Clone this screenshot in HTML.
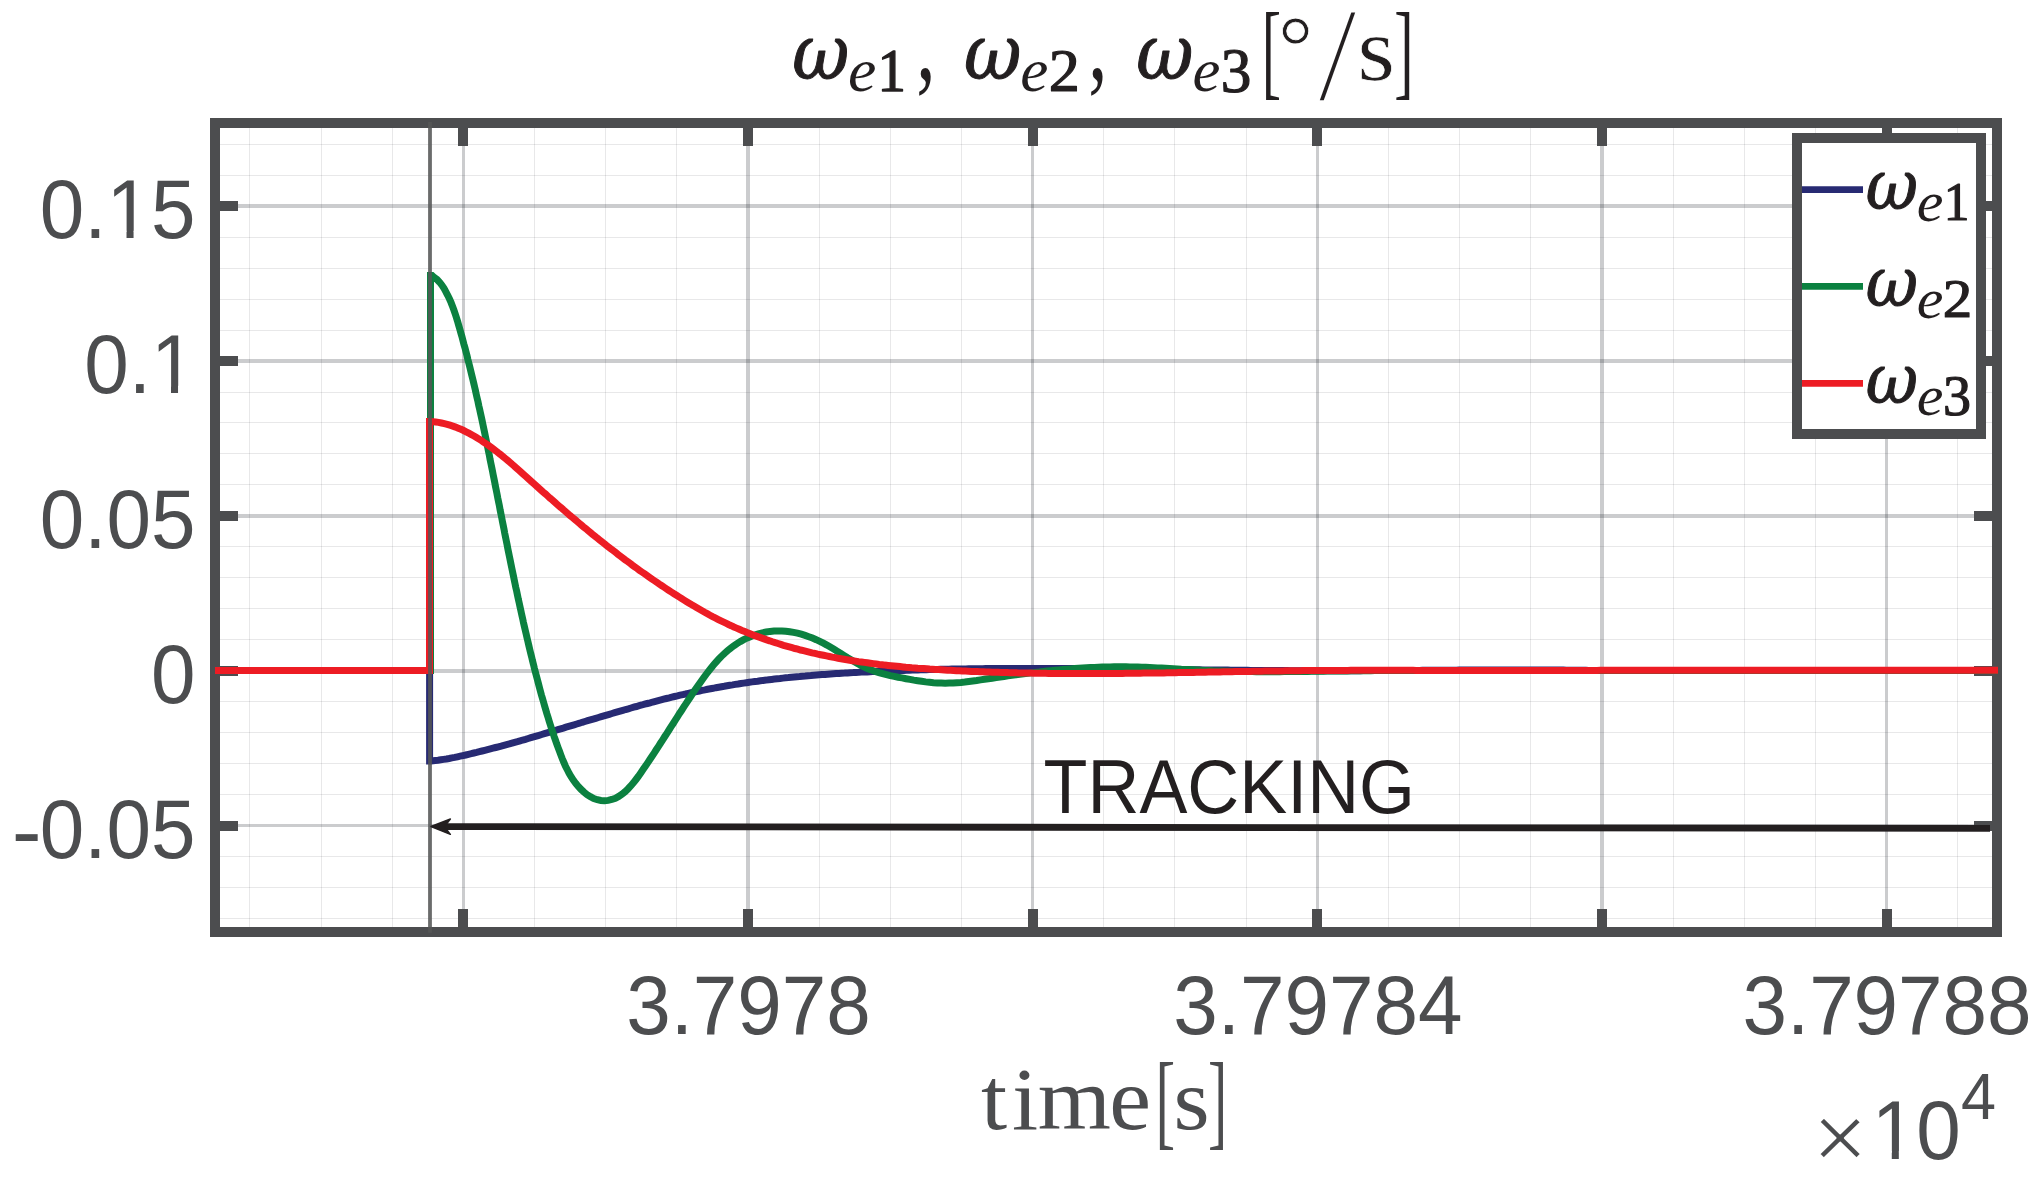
<!DOCTYPE html>
<html><head><meta charset="utf-8"><title>omega e tracking</title>
<style>html,body{margin:0;padding:0;background:#fff;}svg{display:block;}text{font-kerning:none;}</style></head><body>
<svg width="2043" height="1181" viewBox="0 0 2043 1181">
<rect width="2043" height="1181" fill="#fff"/>
<path d="M249.5 123.0V932.0M321.5 123.0V932.0M392.5 123.0V932.0M534.5 123.0V932.0M605.5 123.0V932.0M676.5 123.0V932.0M819.5 123.0V932.0M890.5 123.0V932.0M961.5 123.0V932.0M1103.5 123.0V932.0M1174.5 123.0V932.0M1246.5 123.0V932.0M1388.5 123.0V932.0M1459.5 123.0V932.0M1530.5 123.0V932.0M1673.5 123.0V932.0M1744.5 123.0V932.0M1815.5 123.0V932.0M1957.5 123.0V932.0" stroke="#22262e" stroke-opacity="0.105" stroke-width="1" fill="none"/>
<path d="M215.0 144.5H1997.0M215.0 175.5H1997.0M215.0 237.5H1997.0M215.0 268.5H1997.0M215.0 299.5H1997.0M215.0 330.5H1997.0M215.0 392.5H1997.0M215.0 422.5H1997.0M215.0 453.5H1997.0M215.0 484.5H1997.0M215.0 546.5H1997.0M215.0 577.5H1997.0M215.0 608.5H1997.0M215.0 639.5H1997.0M215.0 701.5H1997.0M215.0 732.5H1997.0M215.0 763.5H1997.0M215.0 794.5H1997.0M215.0 856.5H1997.0M215.0 887.5H1997.0M215.0 918.5H1997.0" stroke="#22262e" stroke-opacity="0.105" stroke-width="1" fill="none"/>
<path d="M463.5 123.0V932.0M1032.5 123.0V932.0M1317.5 123.0V932.0M1886.5 123.0V932.0" stroke="#22262e" stroke-opacity="0.235" stroke-width="3" fill="none"/>
<path d="M748 123.0V932.0M1602 123.0V932.0" stroke="#22262e" stroke-opacity="0.235" stroke-width="4" fill="none"/>
<path d="M215.0 825.5H1997.0" stroke="#22262e" stroke-opacity="0.235" stroke-width="3" fill="none"/>
<path d="M215.0 206H1997.0M215.0 361H1997.0M215.0 516H1997.0M215.0 671H1997.0" stroke="#22262e" stroke-opacity="0.235" stroke-width="4" fill="none"/>
<path d="M463 123.0v23.0M463 932.0v-23.0M748 123.0v23.0M748 932.0v-23.0M1033 123.0v23.0M1033 932.0v-23.0M1317 123.0v23.0M1317 932.0v-23.0M1602 123.0v23.0M1602 932.0v-23.0M1887 123.0v23.0M1887 932.0v-23.0M215.0 206h23.0M1997.0 206h-23.0M215.0 361h23.0M1997.0 361h-23.0M215.0 516h23.0M1997.0 516h-23.0M215.0 671h23.0M1997.0 671h-23.0M215.0 826h23.0M1997.0 826h-23.0" stroke="#4c4d4f" stroke-width="10" fill="none"/>
<rect x="215.0" y="123.0" width="1782.0" height="809.0" fill="none" stroke="#4c4d4f" stroke-width="10"/>
<path d="M215.0 670.5 H429.6 V760.9 h1.6 L435.2 760.5 L438.0 760.2 L440.8 759.8 L443.6 759.4 L446.4 759.0 L449.1 758.5 L451.9 757.9 L454.7 757.4 L457.4 756.8 L460.2 756.2 L462.9 755.6 L465.7 755.0 L468.4 754.3 L471.2 753.7 L473.9 753.0 L476.6 752.4 L479.4 751.7 L482.1 751.0 L484.8 750.3 L487.5 749.6 L490.3 748.9 L493.0 748.2 L495.7 747.5 L498.4 746.8 L501.1 746.1 L503.9 745.3 L506.6 744.6 L509.3 743.9 L512.0 743.1 L514.7 742.3 L517.4 741.6 L520.1 740.8 L522.8 740.0 L525.5 739.3 L528.2 738.5 L530.9 737.7 L533.6 736.9 L536.3 736.1 L539.0 735.3 L541.7 734.5 L544.4 733.7 L547.1 732.9 L549.8 732.1 L552.5 731.3 L555.2 730.5 L557.9 729.7 L560.6 728.9 L563.3 728.1 L566.0 727.2 L568.7 726.4 L571.4 725.6 L574.1 724.8 L576.8 724.0 L579.5 723.2 L582.2 722.3 L584.9 721.5 L587.6 720.7 L590.3 719.9 L593.1 719.1 L595.8 718.3 L598.5 717.5 L601.2 716.7 L603.9 715.9 L606.6 715.1 L609.3 714.3 L612.0 713.5 L614.7 712.7 L617.4 711.9 L620.1 711.1 L622.9 710.3 L625.6 709.5 L628.3 708.8 L631.0 708.0 L633.7 707.2 L636.4 706.5 L639.2 705.7 L641.9 705.0 L644.6 704.2 L647.3 703.5 L650.1 702.8 L652.8 702.0 L655.5 701.3 L658.2 700.6 L661.0 699.9 L663.7 699.2 L666.4 698.5 L669.2 697.9 L671.9 697.2 L674.6 696.5 L677.4 695.9 L680.1 695.2 L682.9 694.6 L685.6 694.0 L688.4 693.3 L691.1 692.7 L693.9 692.1 L696.6 691.6 L699.4 691.0 L702.1 690.4 L704.9 689.9 L707.6 689.3 L710.4 688.8 L713.2 688.3 L715.9 687.7 L718.7 687.2 L721.5 686.7 L724.2 686.3 L727.0 685.8 L729.8 685.3 L732.6 684.9 L735.3 684.4 L738.1 684.0 L740.9 683.5 L743.7 683.1 L746.5 682.7 L749.3 682.3 L752.0 681.9 L754.8 681.5 L757.6 681.2 L760.4 680.8 L763.2 680.4 L766.0 680.1 L768.8 679.7 L771.6 679.4 L774.4 679.1 L777.2 678.8 L780.0 678.5 L782.8 678.1 L785.6 677.8 L788.4 677.6 L791.2 677.3 L794.0 677.0 L796.8 676.7 L799.6 676.5 L802.4 676.2 L805.2 676.0 L808.0 675.7 L810.8 675.5 L813.6 675.2 L816.5 675.0 L819.3 674.8 L822.1 674.6 L824.9 674.4 L827.7 674.2 L830.5 674.0 L833.3 673.8 L836.2 673.6 L839.0 673.4 L841.8 673.2 L844.6 673.1 L847.4 672.9 L850.2 672.7 L853.1 672.6 L855.9 672.4 L858.7 672.3 L861.5 672.1 L864.3 672.0 L867.1 671.9 L870.0 671.7 L872.8 671.6 L875.6 671.5 L878.4 671.3 L881.2 671.2 L884.1 671.1 L886.9 671.0 L889.7 670.9 L892.5 670.8 L895.3 670.7 L898.2 670.6 L901.0 670.5 L903.8 670.4 L906.6 670.3 L909.4 670.2 L912.3 670.1 L915.1 670.0 L917.9 669.9 L920.7 669.8 L923.5 669.8 L926.4 669.7 L929.2 669.6 L932.0 669.5 L934.8 669.5 L937.6 669.4 L940.5 669.3 L943.3 669.3 L946.1 669.2 L948.9 669.2 L951.7 669.1 L954.6 669.1 L957.4 669.0 L960.2 669.0 L963.0 668.9 L965.8 668.9 L968.6 668.8 L971.5 668.8 L974.3 668.8 L977.1 668.7 L979.9 668.7 L982.7 668.7 L985.6 668.6 L988.4 668.6 L991.2 668.6 L994.0 668.5 L996.8 668.5 L999.6 668.5 L1002.5 668.5 L1005.3 668.5 L1008.1 668.4 L1010.9 668.4 L1013.7 668.4 L1016.6 668.4 L1019.4 668.4 L1022.2 668.4 L1025.0 668.4 L1027.8 668.4 L1030.6 668.4 L1033.5 668.4 L1036.3 668.4 L1039.1 668.4 L1041.9 668.4 L1044.7 668.4 L1047.6 668.4 L1050.4 668.4 L1053.2 668.4 L1056.0 668.4 L1058.8 668.4 L1061.6 668.4 L1064.5 668.4 L1067.3 668.5 L1070.1 668.5 L1072.9 668.5 L1075.7 668.5 L1078.5 668.5 L1081.4 668.5 L1084.2 668.6 L1087.0 668.6 L1089.8 668.6 L1092.6 668.6 L1095.4 668.6 L1098.3 668.7 L1101.1 668.7 L1103.9 668.7 L1106.7 668.7 L1109.5 668.8 L1112.4 668.8 L1115.2 668.8 L1118.0 668.8 L1120.8 668.9 L1123.6 668.9 L1126.4 668.9 L1129.3 669.0 L1132.1 669.0 L1134.9 669.0 L1137.7 669.1 L1140.5 669.1 L1143.3 669.1 L1146.2 669.2 L1149.0 669.2 L1151.8 669.2 L1154.6 669.3 L1157.4 669.3 L1160.3 669.3 L1163.1 669.4 L1165.9 669.4 L1168.7 669.4 L1171.5 669.5 L1174.3 669.5 L1177.2 669.5 L1180.0 669.6 L1182.8 669.6 L1185.6 669.6 L1188.4 669.7 L1191.2 669.7 L1194.1 669.7 L1196.9 669.8 L1199.7 669.8 L1202.5 669.9 L1205.3 669.9 L1208.2 669.9 L1211.0 670.0 L1213.8 670.0 L1216.6 670.0 L1219.4 670.0 L1222.2 670.1 L1225.1 670.1 L1227.9 670.1 L1230.7 670.2 L1233.5 670.2 L1236.3 670.2 L1239.2 670.3 L1242.0 670.3 L1244.8 670.3 L1247.6 670.3 L1250.4 670.4 L1253.2 670.4 L1256.1 670.4 L1258.9 670.4 L1261.7 670.5 L1264.5 670.5 L1267.3 670.5 L1270.2 670.5 L1273.0 670.6 L1275.8 670.6 L1278.6 670.6 L1281.4 670.6 L1284.2 670.6 L1287.1 670.6 L1289.9 670.7 L1292.7 670.7 L1295.5 670.7 L1298.3 670.7 L1301.2 670.7 L1304.0 670.7 L1306.8 670.7 L1309.6 670.7 L1312.4 670.7 L1315.3 670.7 L1318.1 670.7 L1320.9 670.7 L1323.7 670.7 L1326.5 670.7 L1329.4 670.7 L1332.2 670.7 L1335.0 670.7 L1337.8 670.7 L1340.6 670.7 L1343.5 670.7 L1346.3 670.7 L1349.1 670.7 L1351.9 670.7 L1354.7 670.7 L1357.6 670.7 L1360.4 670.7 L1363.2 670.6 L1366.0 670.6 L1368.8 670.6 L1371.7 670.6 L1374.5 670.6 L1377.3 670.6 L1380.1 670.6 L1382.9 670.6 L1385.8 670.5 L1388.6 670.5 L1391.4 670.5 L1394.2 670.5 L1397.0 670.5 L1399.9 670.5 L1402.7 670.5 L1405.5 670.4 L1408.3 670.4 L1411.1 670.4 L1414.0 670.4 L1416.8 670.4 L1419.6 670.4 L1422.4 670.3 L1425.2 670.3 L1428.1 670.3 L1430.9 670.3 L1433.7 670.3 L1436.5 670.3 L1439.3 670.2 L1442.2 670.2 L1445.0 670.2 L1447.8 670.2 L1450.6 670.2 L1453.4 670.2 L1456.3 670.2 L1459.1 670.1 L1461.9 670.1 L1464.7 670.1 L1467.5 670.1 L1470.4 670.1 L1473.2 670.1 L1476.0 670.1 L1478.8 670.1 L1481.6 670.0 L1484.5 670.0 L1487.3 670.0 L1490.1 670.0 L1492.9 670.0 L1495.7 670.0 L1498.5 670.0 L1501.4 670.0 L1504.2 670.0 L1507.0 670.0 L1509.8 670.0 L1512.6 670.0 L1515.5 670.0 L1518.3 670.0 L1521.1 670.0 L1523.9 670.0 L1526.7 670.0 L1529.6 670.0 L1532.4 670.0 L1535.2 670.0 L1538.0 670.0 L1540.8 670.0 L1543.6 670.0 L1546.5 670.0 L1549.3 670.1 L1552.1 670.1 L1554.9 670.1 L1557.7 670.1 L1560.6 670.1 L1563.4 670.1 L1566.2 670.2 L1569.0 670.2 L1571.8 670.2 L1574.6 670.2 L1577.5 670.2 L1580.3 670.3 L1583.1 670.3 L1585.9 670.3 L1588.7 670.4 L1591.5 670.4 L1594.4 670.4 L1597.2 670.5 L1600.0 670.5 H1998.0" stroke="#272a73" stroke-width="7" fill="none" stroke-linejoin="miter" stroke-linecap="butt"/>
<path d="M215.0 670.5 H430.5 V275.6 h1.6 L434.0 277.3 L437.0 279.5 L439.6 282.2 L441.9 285.2 L444.0 288.4 L445.9 291.8 L447.7 295.3 L449.4 298.8 L451.0 302.4 L452.4 306.1 L453.8 309.8 L455.1 313.5 L456.3 317.3 L457.5 321.1 L458.6 325.0 L459.7 328.8 L460.8 332.7 L461.9 336.5 L462.9 340.4 L463.9 344.2 L465.0 348.0 L466.0 351.9 L467.0 355.7 L467.9 359.6 L468.9 363.4 L469.9 367.3 L470.8 371.1 L471.7 374.9 L472.7 378.8 L473.6 382.6 L474.5 386.5 L475.4 390.3 L476.2 394.1 L477.1 398.0 L478.0 401.8 L478.8 405.7 L479.7 409.5 L480.5 413.3 L481.4 417.2 L482.2 421.0 L483.0 424.9 L483.8 428.7 L484.6 432.5 L485.4 436.4 L486.2 440.2 L487.0 444.1 L487.8 447.9 L488.6 451.8 L489.4 455.6 L490.1 459.5 L490.9 463.4 L491.7 467.2 L492.5 471.1 L493.2 474.9 L494.0 478.8 L494.8 482.7 L495.5 486.5 L496.3 490.4 L497.1 494.3 L497.8 498.2 L498.6 502.0 L499.4 505.9 L500.1 509.8 L500.9 513.7 L501.7 517.6 L502.4 521.4 L503.2 525.3 L504.0 529.2 L504.7 533.1 L505.5 537.0 L506.3 540.9 L507.1 544.8 L507.8 548.6 L508.6 552.5 L509.4 556.4 L510.2 560.3 L511.0 564.2 L511.8 568.1 L512.6 572.0 L513.4 575.8 L514.2 579.7 L515.0 583.6 L515.8 587.5 L516.7 591.3 L517.5 595.2 L518.3 599.1 L519.2 603.0 L520.0 606.8 L520.9 610.7 L521.7 614.6 L522.6 618.4 L523.4 622.3 L524.3 626.1 L525.2 630.0 L526.1 633.8 L527.0 637.7 L527.9 641.5 L528.8 645.4 L529.7 649.2 L530.6 653.0 L531.6 656.8 L532.5 660.7 L533.5 664.5 L534.4 668.3 L535.4 672.1 L536.4 675.9 L537.4 679.7 L538.4 683.5 L539.4 687.3 L540.4 691.1 L541.4 694.9 L542.5 698.6 L543.6 702.4 L544.7 706.2 L545.8 709.9 L546.9 713.7 L548.1 717.5 L549.2 721.2 L550.4 725.0 L551.6 728.8 L552.9 732.5 L554.1 736.3 L555.4 740.0 L556.7 743.8 L558.1 747.6 L559.5 751.3 L560.9 755.1 L562.3 758.8 L563.9 762.5 L565.5 766.2 L567.3 769.8 L569.1 773.3 L571.1 776.7 L573.3 780.1 L575.7 783.3 L578.3 786.4 L581.1 789.4 L584.0 792.1 L587.1 794.6 L590.4 796.7 L593.8 798.5 L597.3 799.7 L600.9 800.5 L604.5 800.7 L608.2 800.4 L611.8 799.5 L615.4 798.2 L618.7 796.4 L622.0 794.2 L625.0 791.8 L627.9 789.0 L630.7 786.0 L633.4 782.9 L636.0 779.5 L638.5 776.2 L640.9 772.7 L643.2 769.3 L645.5 766.0 L647.8 762.6 L650.0 759.3 L652.2 756.0 L654.3 752.8 L656.4 749.5 L658.5 746.3 L660.6 743.0 L662.7 739.8 L664.8 736.5 L666.9 733.3 L669.0 730.0 L671.1 726.7 L673.2 723.5 L675.3 720.2 L677.4 716.9 L679.5 713.5 L681.7 710.2 L683.8 706.9 L686.0 703.6 L688.2 700.3 L690.4 697.0 L692.6 693.6 L694.8 690.3 L697.1 687.0 L699.4 683.7 L701.7 680.4 L704.0 677.2 L706.4 674.0 L708.8 670.8 L711.3 667.7 L713.9 664.6 L716.5 661.6 L719.1 658.7 L721.9 655.9 L724.7 653.2 L727.6 650.6 L730.6 648.2 L733.8 645.8 L737.0 643.6 L740.3 641.6 L743.7 639.7 L747.3 637.9 L750.9 636.4 L754.7 635.0 L758.4 633.8 L762.3 632.8 L766.2 632.0 L770.1 631.4 L774.0 631.0 L777.9 630.9 L781.9 630.9 L785.8 631.2 L789.7 631.7 L793.6 632.4 L797.4 633.2 L801.3 634.2 L805.1 635.4 L808.8 636.7 L812.5 638.1 L816.2 639.7 L819.8 641.4 L823.4 643.2 L826.9 645.1 L830.3 647.1 L833.7 649.1 L837.1 651.2 L840.5 653.3 L843.9 655.4 L847.2 657.5 L850.6 659.5 L854.0 661.5 L857.4 663.4 L860.9 665.3 L864.3 667.0 L867.9 668.7 L871.5 670.1 L875.1 671.5 L878.9 672.7 L882.6 673.7 L886.5 674.7 L890.3 675.6 L894.2 676.4 L898.1 677.2 L902.0 677.9 L906.0 678.7 L909.9 679.4 L913.8 680.1 L917.7 680.7 L921.7 681.3 L925.6 681.9 L929.5 682.3 L933.5 682.7 L937.4 683.0 L941.3 683.1 L945.2 683.2 L949.2 683.1 L953.1 683.0 L957.0 682.7 L960.9 682.4 L964.8 682.0 L968.8 681.5 L972.7 681.0 L976.6 680.5 L980.5 679.9 L984.4 679.3 L988.3 678.7 L992.2 678.2 L996.2 677.6 L1000.1 677.0 L1004.0 676.5 L1007.9 675.9 L1011.8 675.4 L1015.8 674.9 L1019.7 674.4 L1023.6 673.9 L1027.5 673.4 L1031.5 672.9 L1035.4 672.4 L1039.3 672.0 L1043.3 671.5 L1047.2 671.1 L1051.1 670.7 L1055.1 670.3 L1059.0 669.9 L1062.9 669.5 L1066.9 669.2 L1070.8 668.9 L1074.7 668.6 L1078.7 668.3 L1082.6 668.0 L1086.5 667.8 L1090.5 667.6 L1094.4 667.4 L1098.4 667.2 L1102.3 667.1 L1106.3 667.0 L1110.2 666.9 L1114.1 666.8 L1118.1 666.8 L1122.0 666.8 L1126.0 666.8 L1129.9 666.9 L1133.9 667.0 L1137.8 667.1 L1141.8 667.2 L1145.7 667.3 L1149.7 667.5 L1153.6 667.7 L1157.6 667.9 L1161.5 668.1 L1165.5 668.3 L1169.4 668.5 L1173.4 668.7 L1177.3 668.9 L1181.3 669.2 L1185.2 669.4 L1189.2 669.6 L1193.1 669.8 L1197.1 670.0 L1201.0 670.2 L1205.0 670.4 L1208.9 670.6 L1212.9 670.8 L1216.8 670.9 L1220.8 671.0 L1224.7 671.2 L1228.7 671.3 L1232.6 671.4 L1236.6 671.4 L1240.5 671.5 L1244.5 671.6 L1248.4 671.6 L1252.4 671.6 L1256.3 671.7 L1260.3 671.7 L1264.2 671.7 L1268.2 671.7 L1272.1 671.7 L1276.1 671.7 L1280.0 671.7 L1284.0 671.6 L1287.9 671.6 L1291.9 671.6 L1295.8 671.5 L1299.7 671.5 L1303.7 671.4 L1307.6 671.4 L1311.6 671.3 L1315.5 671.3 L1319.5 671.2 L1323.4 671.2 L1327.4 671.1 L1331.3 671.1 L1335.3 671.0 L1339.2 671.0 L1343.2 670.9 L1347.1 670.9 L1351.1 670.8 L1355.0 670.8 L1359.0 670.8 L1362.9 670.7 L1366.9 670.7 L1370.8 670.7 L1374.8 670.6 L1378.7 670.6 L1382.7 670.6 L1386.6 670.6 L1390.6 670.5 L1394.6 670.5 L1398.5 670.5 L1402.5 670.5 L1406.4 670.5 L1410.4 670.4 L1414.3 670.4 L1418.3 670.4 L1422.2 670.4 L1426.2 670.4 L1430.1 670.4 L1434.1 670.4 L1438.0 670.4 L1442.0 670.4 L1445.9 670.4 L1449.9 670.4 L1453.8 670.4 L1457.8 670.4 L1461.7 670.4 L1465.7 670.4 L1469.6 670.4 L1473.6 670.4 L1477.5 670.4 L1481.5 670.4 L1485.4 670.4 L1489.4 670.4 L1493.3 670.4 L1497.3 670.4 L1501.2 670.4 L1505.2 670.4 L1509.1 670.4 L1513.1 670.4 L1517.0 670.5 L1521.0 670.5 L1524.9 670.5 L1528.9 670.5 L1532.8 670.5 L1536.8 670.5 L1540.7 670.5 L1544.7 670.5 L1548.6 670.5 L1552.6 670.5 L1556.5 670.5 L1560.5 670.5 L1564.4 670.5 L1568.4 670.5 L1572.4 670.5 L1576.3 670.5 L1580.3 670.5 L1584.2 670.5 L1588.2 670.5 L1592.1 670.5 L1596.0 670.5 L1600.0 670.5 H1998.0" stroke="#0b8140" stroke-width="7" fill="none" stroke-linejoin="miter" stroke-linecap="butt"/>
<path d="M215.0 670.5 H429.5 V421.4 h1.6 L432.6 421.6 L435.6 422.0 L438.5 422.4 L441.5 423.0 L444.3 423.6 L447.2 424.3 L450.0 425.2 L452.8 426.1 L455.6 427.1 L458.3 428.2 L461.0 429.3 L463.6 430.5 L466.2 431.8 L468.8 433.2 L471.4 434.6 L474.0 436.0 L476.5 437.5 L479.0 439.1 L481.5 440.6 L483.9 442.3 L486.3 443.9 L488.8 445.6 L491.2 447.4 L493.5 449.1 L495.9 450.9 L498.2 452.8 L500.6 454.6 L502.9 456.5 L505.2 458.4 L507.5 460.3 L509.7 462.2 L512.0 464.2 L514.3 466.1 L516.5 468.1 L518.8 470.1 L521.0 472.1 L523.2 474.1 L525.5 476.1 L527.7 478.1 L529.9 480.1 L532.1 482.1 L534.4 484.1 L536.6 486.1 L538.8 488.1 L541.0 490.1 L543.2 492.1 L545.5 494.0 L547.7 496.0 L549.9 498.0 L552.2 499.9 L554.4 501.9 L556.6 503.9 L558.8 505.8 L561.1 507.7 L563.3 509.7 L565.6 511.6 L567.8 513.5 L570.0 515.5 L572.3 517.4 L574.6 519.3 L576.8 521.2 L579.1 523.1 L581.3 525.0 L583.6 526.9 L585.9 528.7 L588.1 530.6 L590.4 532.5 L592.7 534.4 L595.0 536.2 L597.3 538.1 L599.6 539.9 L601.9 541.7 L604.2 543.6 L606.5 545.4 L608.8 547.2 L611.1 549.0 L613.5 550.8 L615.8 552.6 L618.1 554.4 L620.5 556.2 L622.8 558.0 L625.2 559.8 L627.6 561.5 L630.0 563.3 L632.3 565.1 L634.7 566.8 L637.1 568.5 L639.5 570.3 L641.9 572.0 L644.4 573.7 L646.8 575.4 L649.2 577.1 L651.7 578.8 L654.1 580.5 L656.6 582.2 L659.0 583.9 L661.5 585.5 L664.0 587.2 L666.5 588.8 L669.0 590.5 L671.5 592.1 L674.0 593.7 L676.5 595.3 L679.0 596.9 L681.6 598.5 L684.1 600.1 L686.7 601.7 L689.2 603.2 L691.8 604.8 L694.4 606.3 L696.9 607.8 L699.5 609.3 L702.1 610.8 L704.7 612.3 L707.3 613.7 L710.0 615.2 L712.6 616.6 L715.2 617.9 L717.9 619.3 L720.5 620.6 L723.2 621.9 L725.9 623.2 L728.5 624.5 L731.2 625.7 L733.9 627.0 L736.6 628.1 L739.3 629.3 L742.0 630.5 L744.8 631.6 L747.5 632.7 L750.2 633.8 L753.0 634.9 L755.7 635.9 L758.5 636.9 L761.3 637.9 L764.0 638.9 L766.8 639.9 L769.6 640.8 L772.4 641.8 L775.2 642.7 L778.0 643.5 L780.8 644.4 L783.6 645.3 L786.4 646.1 L789.3 646.9 L792.1 647.7 L794.9 648.5 L797.8 649.2 L800.6 650.0 L803.5 650.7 L806.3 651.4 L809.2 652.1 L812.1 652.8 L814.9 653.4 L817.8 654.1 L820.7 654.7 L823.6 655.3 L826.5 655.9 L829.4 656.5 L832.3 657.1 L835.2 657.6 L838.1 658.2 L841.0 658.7 L843.9 659.2 L846.9 659.7 L849.8 660.2 L852.7 660.7 L855.6 661.1 L858.6 661.6 L861.5 662.0 L864.4 662.4 L867.4 662.8 L870.3 663.2 L873.3 663.6 L876.2 664.0 L879.2 664.4 L882.1 664.7 L885.1 665.1 L888.0 665.4 L891.0 665.7 L894.0 666.0 L896.9 666.3 L899.9 666.6 L902.9 666.9 L905.8 667.2 L908.8 667.4 L911.8 667.7 L914.8 667.9 L917.7 668.2 L920.7 668.4 L923.7 668.6 L926.7 668.8 L929.6 669.1 L932.6 669.3 L935.6 669.5 L938.6 669.6 L941.6 669.8 L944.5 670.0 L947.5 670.2 L950.5 670.3 L953.5 670.5 L956.4 670.7 L959.4 670.8 L962.4 671.0 L965.4 671.1 L968.4 671.2 L971.3 671.4 L974.3 671.5 L977.3 671.6 L980.3 671.7 L983.2 671.8 L986.2 672.0 L989.2 672.1 L992.2 672.2 L995.1 672.3 L998.1 672.3 L1001.1 672.4 L1004.0 672.5 L1007.0 672.6 L1010.0 672.7 L1012.9 672.8 L1015.9 672.8 L1018.9 672.9 L1021.9 673.0 L1024.8 673.0 L1027.8 673.1 L1030.8 673.1 L1033.7 673.2 L1036.7 673.2 L1039.7 673.3 L1042.6 673.3 L1045.6 673.3 L1048.5 673.4 L1051.5 673.4 L1054.5 673.4 L1057.4 673.5 L1060.4 673.5 L1063.4 673.5 L1066.3 673.5 L1069.3 673.5 L1072.3 673.5 L1075.2 673.5 L1078.2 673.6 L1081.1 673.6 L1084.1 673.6 L1087.1 673.6 L1090.0 673.6 L1093.0 673.5 L1095.9 673.5 L1098.9 673.5 L1101.9 673.5 L1104.8 673.5 L1107.8 673.5 L1110.8 673.5 L1113.7 673.4 L1116.7 673.4 L1119.6 673.4 L1122.6 673.4 L1125.5 673.3 L1128.5 673.3 L1131.5 673.3 L1134.4 673.3 L1137.4 673.2 L1140.3 673.2 L1143.3 673.1 L1146.3 673.1 L1149.2 673.1 L1152.2 673.0 L1155.1 673.0 L1158.1 672.9 L1161.1 672.9 L1164.0 672.9 L1167.0 672.8 L1169.9 672.8 L1172.9 672.7 L1175.8 672.7 L1178.8 672.6 L1181.8 672.6 L1184.7 672.5 L1187.7 672.5 L1190.6 672.4 L1193.6 672.4 L1196.6 672.3 L1199.5 672.3 L1202.5 672.2 L1205.4 672.2 L1208.4 672.1 L1211.3 672.1 L1214.3 672.0 L1217.3 671.9 L1220.2 671.9 L1223.2 671.8 L1226.1 671.8 L1229.1 671.7 L1232.1 671.7 L1235.0 671.6 L1238.0 671.6 L1240.9 671.5 L1243.9 671.5 L1246.9 671.4 L1249.8 671.4 L1252.8 671.3 L1255.8 671.3 L1258.7 671.2 L1261.7 671.2 L1264.6 671.1 L1267.6 671.1 L1270.6 671.0 L1273.5 671.0 L1276.5 671.0 L1279.5 670.9 L1282.4 670.9 L1285.4 670.8 L1288.4 670.8 L1291.3 670.8 L1294.3 670.7 L1297.3 670.7 L1300.2 670.7 L1303.2 670.6 L1306.2 670.6 L1309.1 670.6 L1312.1 670.6 L1315.1 670.5 L1318.0 670.5 L1321.0 670.5 L1324.0 670.5 L1326.9 670.5 L1329.9 670.4 L1332.9 670.4 L1335.8 670.4 L1338.8 670.4 L1341.8 670.4 L1344.8 670.4 L1347.7 670.4 L1350.7 670.3 L1353.7 670.3 L1356.6 670.3 L1359.6 670.3 L1362.6 670.3 L1365.6 670.3 L1368.5 670.3 L1371.5 670.3 L1374.5 670.3 L1377.4 670.3 L1380.4 670.3 L1383.4 670.3 L1386.4 670.3 L1389.3 670.3 L1392.3 670.3 L1395.3 670.3 L1398.3 670.3 L1401.2 670.3 L1404.2 670.3 L1407.2 670.3 L1410.1 670.3 L1413.1 670.3 L1416.1 670.4 L1419.1 670.4 L1422.0 670.4 L1425.0 670.4 L1428.0 670.4 L1431.0 670.4 L1433.9 670.4 L1436.9 670.4 L1439.9 670.4 L1442.9 670.4 L1445.8 670.4 L1448.8 670.4 L1451.8 670.5 L1454.7 670.5 L1457.7 670.5 L1460.7 670.5 L1463.7 670.5 L1466.6 670.5 L1469.6 670.5 L1472.6 670.5 L1475.5 670.5 L1478.5 670.5 L1481.5 670.5 L1484.4 670.6 L1487.4 670.6 L1490.4 670.6 L1493.4 670.6 L1496.3 670.6 L1499.3 670.6 L1502.3 670.6 L1505.2 670.6 L1508.2 670.6 L1511.2 670.6 L1514.1 670.6 L1517.1 670.6 L1520.1 670.6 L1523.0 670.6 L1526.0 670.6 L1529.0 670.6 L1531.9 670.6 L1534.9 670.6 L1537.8 670.6 L1540.8 670.6 L1543.8 670.6 L1546.7 670.6 L1549.7 670.6 L1552.7 670.6 L1555.6 670.6 L1558.6 670.6 L1561.5 670.6 L1564.5 670.6 L1567.5 670.6 L1570.4 670.5 L1573.4 670.5 L1576.3 670.5 L1579.3 670.5 L1582.2 670.5 L1585.2 670.5 L1588.1 670.4 L1591.1 670.4 L1594.1 670.4 L1597.0 670.4 L1600.0 670.3 H1998.0" stroke="#ed1c24" stroke-width="7" fill="none" stroke-linejoin="miter" stroke-linecap="butt"/>
<path d="M430.0 122 V932.7" stroke="#555657" stroke-opacity="0.88" stroke-width="3.8" fill="none"/>
<path d="M1990 828.4 L444 826.6" stroke="#231f20" stroke-width="6.8" fill="none"/>
<path d="M431 826.5 L450.4 819 L444.5 826.6 L450.4 834.4 Z" fill="#231f20" stroke="#231f20" stroke-width="1.4" stroke-linejoin="round"/>
<text transform="translate(1043.6 813.0) scale(1 1.053)" text-anchor="start" font-family='"Liberation Sans", sans-serif' font-size="71.9" fill="#231f20">TRACKING</text>
<rect x="1797" y="138" width="184" height="296" fill="#fff" stroke="#4c4d4f" stroke-width="10"/>
<path d="M1802 189.6 H1863" stroke="#272a73" stroke-width="6.8" fill="none"/>
<path d="M1802 286.3 H1863" stroke="#0b8140" stroke-width="6.8" fill="none"/>
<path d="M1802 383.3 H1863" stroke="#ed1c24" stroke-width="6.8" fill="none"/>
<text transform="translate(195.4 238.4) scale(1 1.04)" text-anchor="end" font-family='"Liberation Sans", sans-serif' font-size="80" fill="#4c4d4f">0.15</text>
<text transform="translate(195.4 393.4) scale(1 1.04)" text-anchor="end" font-family='"Liberation Sans", sans-serif' font-size="80" fill="#4c4d4f">0.1</text>
<text transform="translate(195.4 548.4) scale(1 1.04)" text-anchor="end" font-family='"Liberation Sans", sans-serif' font-size="80" fill="#4c4d4f">0.05</text>
<text transform="translate(195.4 703.4) scale(1 1.04)" text-anchor="end" font-family='"Liberation Sans", sans-serif' font-size="80" fill="#4c4d4f">0</text>
<text transform="matrix(0.4490 0 0 0.4375 11.86 860.69)" font-family='"Liberation Sans", sans-serif' font-style="normal" font-size="200" fill="#4c4d4f">-</text>
<text transform="translate(195.4 858.4) scale(1 1.04)" text-anchor="end" font-family='"Liberation Sans", sans-serif' font-size="80" fill="#4c4d4f">0.05</text>
<text transform="translate(748.5 1034.4) scale(1 1.04)" text-anchor="middle" font-family='"Liberation Sans", sans-serif' font-size="80" fill="#4c4d4f">3.7978</text>
<text transform="translate(1317.8 1034.4) scale(1 1.04)" text-anchor="middle" font-family='"Liberation Sans", sans-serif' font-size="80" fill="#4c4d4f">3.79784</text>
<text transform="translate(1887.0 1034.4) scale(1 1.04)" text-anchor="middle" font-family='"Liberation Sans", sans-serif' font-size="80" fill="#4c4d4f">3.79788</text>
<text transform="matrix(0.4730 0 0 0.4629 1812.38 1169.08)" font-family='"Liberation Sans", sans-serif' font-style="normal" font-size="200" fill="#4c4d4f" stroke="#fff" stroke-width="4.70" stroke-linejoin="round">×</text>
<text transform="translate(1871.7 1158.5) scale(1 1.04)" text-anchor="start" font-family='"Liberation Sans", sans-serif' font-size="80" fill="#4c4d4f">10</text>
<text transform="translate(1961.0 1118.6) scale(1 1.04)" text-anchor="start" font-family='"Liberation Sans", sans-serif' font-size="63" fill="#4c4d4f">4</text>
<text transform="matrix(0.4702 0 0 0.4478 0 1129.00)" x="2086.2 2152.1 2207.1 2358.9" y="0" font-family='"Liberation Serif", serif' font-style="normal" font-size="200" fill="#4c4d4f">time</text>
<text transform="matrix(0.2955 0 0 0.5343 1155.57 1136.27)" font-family='"Liberation Serif", serif' font-style="normal" font-size="200" fill="#4c4d4f">[</text>
<text transform="matrix(0.4635 0 0 0.4344 1173.39 1129.03)" font-family='"Liberation Serif", serif' font-style="normal" font-size="200" fill="#4c4d4f">s</text>
<text transform="matrix(0.2889 0 0 0.5343 1207.88 1136.27)" font-family='"Liberation Serif", serif' font-style="normal" font-size="200" fill="#4c4d4f">]</text>
<text transform="matrix(0.3500 0 0 0.3790 792.15 79.02)" font-family='"DejaVu Serif", "Liberation Serif", serif' font-style="italic" font-size="200" fill="#231f20" stroke="#231f20" stroke-width="2.75" stroke-linejoin="round">ω</text>
<text transform="matrix(0.3192 0 0 0.3031 847.98 91.39)" font-family='"Liberation Serif", serif' font-style="italic" font-size="200" fill="#231f20">e</text>
<text transform="matrix(0.2843 0 0 0.3083 877.38 91.00)" font-family='"Liberation Serif", serif' font-style="normal" font-size="200" fill="#231f20" stroke="#231f20" stroke-width="4.73" stroke-linejoin="round">1</text>
<text transform="matrix(0.3862 0 0 0.5353 916.31 79.24)" font-family='"Liberation Serif", serif' font-style="normal" font-size="200" fill="#231f20">,</text>
<text transform="matrix(0.3520 0 0 0.3790 964.04 79.02)" font-family='"DejaVu Serif", "Liberation Serif", serif' font-style="italic" font-size="200" fill="#231f20" stroke="#231f20" stroke-width="2.74" stroke-linejoin="round">ω</text>
<text transform="matrix(0.3167 0 0 0.3031 1020.20 91.39)" font-family='"Liberation Serif", serif' font-style="italic" font-size="200" fill="#231f20">e</text>
<text transform="matrix(0.3113 0 0 0.3098 1048.70 91.40)" font-family='"Liberation Serif", serif' font-style="normal" font-size="200" fill="#231f20" stroke="#231f20" stroke-width="3.86" stroke-linejoin="round">2</text>
<text transform="matrix(0.3828 0 0 0.5353 1088.34 79.24)" font-family='"Liberation Serif", serif' font-style="normal" font-size="200" fill="#231f20">,</text>
<text transform="matrix(0.3507 0 0 0.3790 1136.35 79.02)" font-family='"DejaVu Serif", "Liberation Serif", serif' font-style="italic" font-size="200" fill="#231f20" stroke="#231f20" stroke-width="2.74" stroke-linejoin="round">ω</text>
<text transform="matrix(0.3141 0 0 0.3031 1192.62 91.39)" font-family='"Liberation Serif", serif' font-style="italic" font-size="200" fill="#231f20">e</text>
<text transform="matrix(0.3061 0 0 0.3142 1220.64 91.97)" font-family='"Liberation Serif", serif' font-style="normal" font-size="200" fill="#231f20" stroke="#231f20" stroke-width="3.87" stroke-linejoin="round">3</text>
<text transform="matrix(0.2909 0 0 0.5295 1261.74 85.60)" font-family='"Liberation Serif", serif' font-style="normal" font-size="200" fill="#231f20">[</text>
<text transform="matrix(0.4350 0 0 0.4279 1278.25 74.81)" font-family='"Liberation Serif", serif' font-style="normal" font-size="200" fill="#231f20" stroke="#fff" stroke-width="1.85" stroke-linejoin="round">°</text>
<text transform="matrix(0.4857 0 0 0.4531 1357.36 80.14)" font-family='"Liberation Serif", serif' font-style="normal" font-size="200" fill="#231f20" stroke="#fff" stroke-width="1.49" stroke-linejoin="round">s</text>
<text transform="matrix(0.2889 0 0 0.5295 1394.18 85.60)" font-family='"Liberation Serif", serif' font-style="normal" font-size="200" fill="#231f20">]</text>
<text transform="matrix(0.4067 0 -0.0958 0.6560 1319.89 98.59)" font-family='"Liberation Serif", serif' font-style="normal" font-size="200" fill="#231f20">/</text>
<text transform="matrix(0.3203 0 0 0.3467 1865.86 209.15)" font-family='"DejaVu Serif", "Liberation Serif", serif' font-style="italic" font-size="200" fill="#231f20" stroke="#231f20" stroke-width="3.00" stroke-linejoin="round">ω</text>
<text transform="matrix(0.3000 0 0 0.2896 1916.80 221.22)" font-family='"Liberation Serif", serif' font-style="italic" font-size="200" fill="#231f20">e</text>
<text transform="matrix(0.2571 0 0 0.2788 1943.77 220.40)" font-family='"Liberation Serif", serif' font-style="normal" font-size="200" fill="#231f20" stroke="#231f20" stroke-width="4.48" stroke-linejoin="round">1</text>
<text transform="matrix(0.3203 0 0 0.3467 1865.86 305.95)" font-family='"DejaVu Serif", "Liberation Serif", serif' font-style="italic" font-size="200" fill="#231f20" stroke="#231f20" stroke-width="3.00" stroke-linejoin="round">ω</text>
<text transform="matrix(0.3000 0 0 0.2896 1916.80 318.02)" font-family='"Liberation Serif", serif' font-style="italic" font-size="200" fill="#231f20">e</text>
<text transform="matrix(0.2950 0 0 0.2788 1942.74 317.20)" font-family='"Liberation Serif", serif' font-style="normal" font-size="200" fill="#231f20" stroke="#231f20" stroke-width="4.18" stroke-linejoin="round">2</text>
<text transform="matrix(0.3203 0 0 0.3467 1865.86 403.15)" font-family='"DejaVu Serif", "Liberation Serif", serif' font-style="italic" font-size="200" fill="#231f20" stroke="#231f20" stroke-width="3.00" stroke-linejoin="round">ω</text>
<text transform="matrix(0.3000 0 0 0.2896 1916.80 415.22)" font-family='"Liberation Serif", serif' font-style="italic" font-size="200" fill="#231f20">e</text>
<text transform="matrix(0.2805 0 0 0.2821 1943.00 414.84)" font-family='"Liberation Serif", serif' font-style="normal" font-size="200" fill="#231f20" stroke="#231f20" stroke-width="4.27" stroke-linejoin="round">3</text>
<rect x="111.24" y="230.78" width="15.28" height="9.12" fill="#fff"/><rect x="133.56" y="230.78" width="14.80" height="9.12" fill="#fff"/>
<rect x="155.72" y="385.78" width="15.28" height="9.12" fill="#fff"/><rect x="178.04" y="385.78" width="14.80" height="9.12" fill="#fff"/>
<rect x="1876.50" y="1150.88" width="15.28" height="9.12" fill="#fff"/><rect x="1898.82" y="1150.88" width="14.80" height="9.12" fill="#fff"/>
</svg></body></html>
